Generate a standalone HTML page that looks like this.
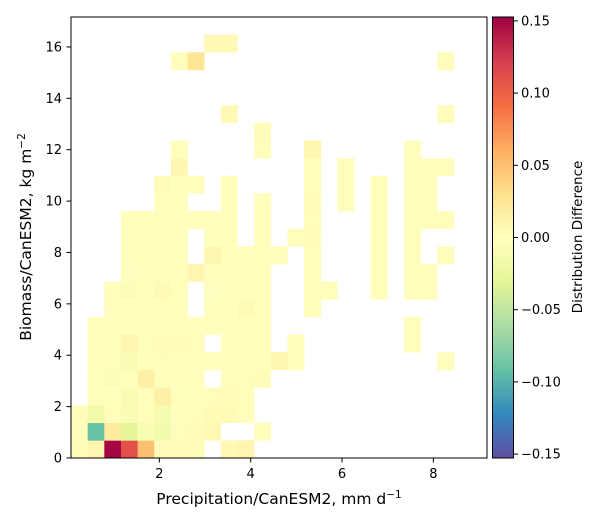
<!DOCTYPE html>
<html><head><meta charset="utf-8">
<style>
html,body{margin:0;padding:0;background:#fff;}
svg{display:block;font-family:"DejaVu Sans","Liberation Sans",sans-serif;}
</style></head>
<body>
<svg id="chart" width="600" height="525" viewBox="0 0 600 525" xmlns="http://www.w3.org/2000/svg">
<defs>
<linearGradient id="cmap" x1="0" y1="1" x2="0" y2="0">
<stop offset="0" stop-color="#5e4fa2"/><stop offset="0.1" stop-color="#3288bd"/>
<stop offset="0.2" stop-color="#66c2a5"/><stop offset="0.3" stop-color="#abdda4"/>
<stop offset="0.4" stop-color="#e6f598"/><stop offset="0.5" stop-color="#ffffbf"/>
<stop offset="0.6" stop-color="#fee08b"/><stop offset="0.7" stop-color="#fdae61"/>
<stop offset="0.8" stop-color="#f46d43"/><stop offset="0.9" stop-color="#d53e4f"/>
<stop offset="1" stop-color="#9e0142"/>
</linearGradient>
</defs>
<g id="cells"></g>
<rect x="71" y="17" width="416" height="441" fill="none" stroke="#000" stroke-width="1"/>
<g id="xticks"></g>
<g id="yticks"></g>
<text x="279" y="504" font-size="15.5" text-anchor="middle">Precipitation/CanESM2,  mm d<tspan font-size="10.5" dy="-6">−1</tspan></text>
<text transform="translate(31,237) rotate(-90)" font-size="15.5" text-anchor="middle">Biomass/CanESM2,  kg m<tspan font-size="10.5" dy="-6">−2</tspan></text>
<rect x="492.5" y="17" width="21" height="441" fill="url(#cmap)" stroke="#000" stroke-width="1"/>
<g id="cticks"></g>
<text transform="translate(582,237) rotate(-90)" font-size="13.5" text-anchor="middle">Distribution Difference</text>
</svg>
<script>
const xTicks = [2, 4, 6, 8];
const yTicks = [0, 2, 4, 6, 8, 10, 12, 14, 16];
const cTicks = [0.15, 0.10, 0.05, 0.00, -0.05, -0.10, -0.15];
const xBinStart = 0.066, xBinWidth = 0.3645;
const yBinStart = 0, yBinWidth = 0.6866;
const vmax = 0.1527;
// grid values: row 0 = bottom bin, columns left to right; null = empty
const N = null;
const row0 = [0.003,0.01,0.15,0.11,0.05,0.003,0.003,0.004,N,0.006,0.01];
const row1 = [0.002,-0.09,0.02,-0.03,-0.01,-0.015,0.002,0.003,0.006,N,N,0.002];
const row2 = [0.002,-0.015,0.002,-0.008,0.002,-0.012,0.001,0.002,0.005,0.005,0.002];
const row3 = [N,-0.004,0.001,-0.01,0.002,0.015,-0.002,0.001,0.002,0.004,0.002];
const row4 = [N,-0.003,-0.005,0.001,0.015,-0.003,0.001,0.001,N,0.002,0.002,0.004];
const row5 = [N,0.001,-0.002,-0.008,0.001,-0.002,0.001,0.001,0.001,0.001,0.001,0.001,0.008,0.002,N,N,N,N,N,N,N,N,0.002];
const row6 = [N,0.001,-0.002,0.008,-0.003,0.004,0.004,0.002,N,0.001,0.001,0.001,N,0.002,N,N,N,N,N,N,0.002];
const row7 = [N,0.001,0.001,0.001,0.001,0.001,0.001,0.001,0.001,0.001,0.001,0.001,N,N,N,N,N,N,N,N,0.002];
const row8 = [N,N,0.001,0.001,0.001,0.001,0.001,N,0.001,0.001,0.005,0.001,N,N,0.002];
const row9 = [N,N,0.001,-0.005,0.001,0.005,0.001,N,-0.001,0.001,0.001,0.001,N,N,0.002,0.002,N,N,0.002,N,0.002,0.002];
const row10 = [N,N,N,-0.001,0.001,0.001,0.001,0.008,0.001,0.001,0.001,0.001,N,N,0.002,N,N,N,0.002,N,0.002,0.002];
const row11 = [N,N,N,0.001,0.001,0.001,0.001,N,0.008,0.001,0.001,0.001,0.002,N,0.002,N,N,N,0.002,N,0.002,N,0.002];
const row12 = [N,N,N,0.001,0.001,0.001,0.001,N,0.001,0.001,N,0.001,N,0.002,0.004,N,N,N,0.002,N,0.002];
const row13 = [N,N,N,0.001,0.001,0.001,0.002,0.001,0.001,0.001,N,0.001,N,N,0.002,N,N,N,0.002,N,0.002,0.002,0.002];
const row14 = [N,N,N,N,N,0.001,0.001,N,N,0.001,N,0.001,N,N,0.004,N,0.002,N,0.002,N,0.002,0.002];
const row15 = [N,N,N,N,N,0.004,0.001,0.001,N,0.001,N,N,N,N,0.002,N,0.002,N,0.002,N,0.002,0.002];
const row16 = [N,N,N,N,N,N,0.008,N,N,N,N,N,N,N,0.002,N,0.002,N,N,N,0.002,0.002,0.002];
const row17 = [N,N,N,N,N,N,0.002,N,N,N,N,0.002,N,N,0.008,N,N,N,N,N,0.002];
const row18 = [N,N,N,N,N,N,N,N,N,N,N,0.004];
const row19 = [N,N,N,N,N,N,N,N,N,0.006,N,N,N,N,N,N,N,N,N,N,N,N,0.002];
const row20 = [];
const row21 = [];
const row22 = [N,N,N,N,N,N,0.002,0.025,N,N,N,N,N,N,N,N,N,N,N,N,N,N,0.002];
const row23 = [N,N,N,N,N,N,N,N,0.006,0.006];
const rows = [row0,row1,row2,row3,row4,row5,row6,row7,row8,row9,row10,row11,row12,row13,row14,row15,row16,row17,row18,row19,row20,row21,row22,row23];

const X0=71,X1=487,Y0=458,Y1=17;
const xMin=(71-68)/45.67, xMax=xMin+416/45.67;
const yMin=0, yMax=441/25.69;
function sx(v){return X0+(v-xMin)/(xMax-xMin)*(X1-X0);}
function sy(v){return Y0-(v-yMin)/(yMax-yMin)*(Y0-Y1);}
function sc(v){return 458-(v+vmax)/(2*vmax)*441;}
const stops=[[94,79,162],[50,136,189],[102,194,165],[171,221,164],[230,245,152],[255,255,191],[254,224,139],[253,174,97],[244,109,67],[213,62,79],[158,1,66]];
function color(v){
  let t=(v+vmax)/(2*vmax); t=Math.max(0,Math.min(1,t))*10;
  let i=Math.min(9,Math.floor(t)), f=t-i;
  const a=stops[i],b=stops[i+1];
  return 'rgb('+a.map((c,k)=>Math.round(c+(b[k]-c)*f)).join(',')+')';
}
const NS='http://www.w3.org/2000/svg';
const cells=document.getElementById('cells');
rows.forEach((row,r)=>{
  row.forEach((v,c)=>{
    if(v===null||v===undefined) return;
    const x0=sx(xBinStart+c*xBinWidth), x1=sx(xBinStart+(c+1)*xBinWidth);
    const y0=sy(yBinStart+r*yBinWidth), y1=sy(yBinStart+(r+1)*yBinWidth);
    const el=document.createElementNS(NS,'rect');
    
    
    el.setAttribute('x',x0);el.setAttribute('y',y1);
    el.setAttribute('width',x1-x0+0.3);el.setAttribute('height',y0-y1+0.3);
    el.setAttribute('fill',color(v));
    cells.appendChild(el);
  });
});
const xg=document.getElementById('xticks');
xTicks.forEach(t=>{
  const x=sx(t);
  const l=document.createElementNS(NS,'line');
  
  
  l.setAttribute('x1',x);l.setAttribute('x2',x);l.setAttribute('y1',458);l.setAttribute('y2',462.5);l.setAttribute('stroke','#000');
  xg.appendChild(l);
  const tx=document.createElementNS(NS,'text');
  
  
  tx.setAttribute('x',x);tx.setAttribute('y',478);tx.setAttribute('font-size','13');tx.setAttribute('text-anchor','middle');
  tx.textContent=t;xg.appendChild(tx);
});
const yg=document.getElementById('yticks');
yTicks.forEach(t=>{
  const y=sy(t);
  const l=document.createElementNS(NS,'line');
  
  
  l.setAttribute('x1',66.5);l.setAttribute('x2',71);l.setAttribute('y1',y);l.setAttribute('y2',y);l.setAttribute('stroke','#000');
  yg.appendChild(l);
  const tx=document.createElementNS(NS,'text');
  
  
  tx.setAttribute('x',62);tx.setAttribute('y',y+4.5);tx.setAttribute('font-size','13');tx.setAttribute('text-anchor','end');
  tx.textContent=t;yg.appendChild(tx);
});
const cg=document.getElementById('cticks');
cTicks.forEach(t=>{
  const y=sc(t);
  const l=document.createElementNS(NS,'line');
  
  
  l.setAttribute('x1',513.5);l.setAttribute('x2',518);l.setAttribute('y1',y);l.setAttribute('y2',y);l.setAttribute('stroke','#000');
  cg.appendChild(l);
  const tx=document.createElementNS(NS,'text');
  
  
  tx.setAttribute('x',521);tx.setAttribute('y',y+4.5);tx.setAttribute('font-size','13');
  tx.textContent=(t<0?'−':'')+Math.abs(t).toFixed(2);cg.appendChild(tx);
});
</script>
</body></html>
